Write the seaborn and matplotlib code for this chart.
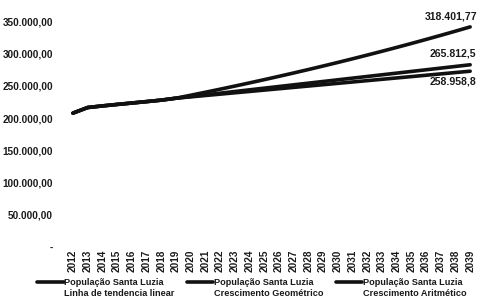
import matplotlib
matplotlib.use("Agg")
import matplotlib.pyplot as plt
import matplotlib.transforms as mtransforms
from matplotlib.ticker import FuncFormatter
import seaborn as sns
import pandas as pd

years = list(range(2012, 2040))

linear_trend = [207800, 216500, 219000, 221300, 223500, 225700, 228000, 231000,
                233600, 236200, 238800, 241400, 244000, 246600, 249200, 251800,
                254400, 257000, 259600, 262200, 264800, 267400, 270000, 272600,
                275200, 277800, 280400, 283000]
geometric = [207800, 216500, 219000, 221300, 223500, 225700, 228000, 231000,
             235570, 240240, 244990, 249840, 254790, 259830, 264980, 270220,
             275570, 281030, 286590, 292270, 298050, 303950, 309970, 316110,
             322370, 328750, 335260, 341900]
arithmetic = [207800, 216500, 219000, 221300, 223500, 225700, 228000, 231000,
              233100, 235200, 237300, 239400, 241500, 243600, 245700, 247800,
              249900, 252000, 254100, 256200, 258300, 260400, 262500, 264600,
              266700, 268800, 270900, 273000]

series_names = ["População Santa Luzia\nLinha de tendencia linear",
                "População Santa Luzia\nCrescimento Geométrico",
                "População Santa Luzia\nCrescimento Aritmético"]
end_labels = ["265.812,5", "318.401,77", "258.958,8"]

df = pd.concat([
    pd.DataFrame({"Ano": years, "Pop": linear_trend, "Serie": series_names[0]}),
    pd.DataFrame({"Ano": years, "Pop": geometric, "Serie": series_names[1]}),
    pd.DataFrame({"Ano": years, "Pop": arithmetic, "Serie": series_names[2]}),
])

sns.set_theme(style="white")
plt.rcParams["font.family"] = ["Liberation Sans", "DejaVu Sans"]
plt.rcParams["font.weight"] = "bold"

fig = plt.figure(figsize=(4.8, 3.04), dpi=100)
ax = fig.add_axes([65.6 / 480, 1 - 246.7 / 304, (477.5 - 65.6) / 480, 225 / 304])

sns.lineplot(data=df, x="Ano", y="Pop", hue="Serie",
             palette=["#111111", "#111111", "#111111"], linewidth=2.6,
             ax=ax, legend=True)

ax.set_xlim(2011.5, 2039.5)
ax.set_ylim(0, 350000)
ax.set_yticks(range(0, 350001, 50000))


def fmt(v, pos):
    if v == 0:
        return "-"
    s = f"{int(v):,}".replace(",", ".")
    return s + ",00"


ax.yaxis.set_major_formatter(FuncFormatter(fmt))
ax.set_xticks(years)
ax.set_xticklabels([str(y) for y in years], rotation=90)
for lab in ax.get_xticklabels():
    lab.set_transform(lab.get_transform() + mtransforms.ScaledTranslation(6 / 100, 0, fig.dpi_scale_trans))
ax.tick_params(axis="x", labelsize=7.2, pad=2, length=0)
ax.tick_params(axis="y", labelsize=7.2, pad=9, length=0)
for lab in ax.get_xticklabels() + ax.get_yticklabels():
    lab.set_fontweight("bold")
    lab.set_color("#1a1a1a")
ax.set_xlabel("")
ax.set_ylabel("")
for sp in ax.spines.values():
    sp.set_visible(False)
ax.grid(False)

# end data labels (kept inside the figure)
offsets = [(-29, 8.4), (-33, 7.6), (-29, -7.5)]
ends = [linear_trend[-1], geometric[-1], arithmetic[-1]]
for txt, yv, off in zip(end_labels, ends, offsets):
    ax.annotate(txt, xy=(years[-1], yv), xytext=off, textcoords="offset points",
                ha="left", va="center", fontsize=7.6, fontweight="bold",
                color="#1a1a1a", annotation_clip=False)

handles, labels = ax.get_legend_handles_labels()
leg = ax.legend(handles, labels, loc="upper left", bbox_to_anchor=(37 / 480, 1 - 278 / 304),
                bbox_transform=fig.transFigure, ncol=3, frameon=False,
                prop={"size": 6.6, "weight": "bold"}, handlelength=2.9,
                handletextpad=0.1, columnspacing=1.3, borderpad=0, borderaxespad=0,
                labelspacing=0)
for t in leg.get_texts():
    t.set_linespacing(1.35)
    t.set_color("#1a1a1a")
for ln in leg.get_lines():
    ln.set_transform(ln.get_transform() + mtransforms.ScaledTranslation(0, 6.5 / 100, fig.dpi_scale_trans))

fig.savefig("out.png", dpi=100)
